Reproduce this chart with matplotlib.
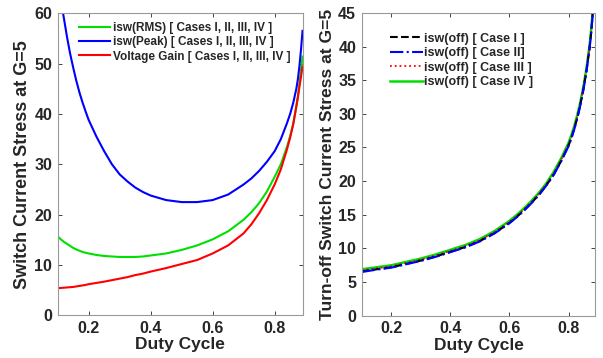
import matplotlib
matplotlib.use("Agg")
import matplotlib.pyplot as plt

# -- Left panel: switch current stress at G=5 --------------------------------
duty_left = [0.10, 0.11, 0.12, 0.13, 0.14, 0.15, 0.16, 0.17, 0.18, 0.19, 0.20,
             0.225, 0.25, 0.275, 0.30, 0.325, 0.35, 0.375, 0.40, 0.45, 0.50,
             0.55, 0.60, 0.65, 0.70, 0.725, 0.75, 0.775, 0.80, 0.82, 0.84,
             0.85, 0.86, 0.87, 0.875, 0.88, 0.885, 0.89]
isw_peak = [66.5, 62.5, 59.0, 55.3, 52.0, 49.2, 46.6, 44.3, 42.3, 40.5, 38.8,
            35.5, 32.6, 30.0, 28.0, 26.6, 25.4, 24.5, 23.8, 22.9, 22.5,
            22.5, 22.9, 24.0, 26.0, 27.2, 28.7, 30.5, 32.6, 35.0, 38.2,
            40.0, 42.2, 45.0, 46.9, 49.5, 52.7, 56.5]
isw_rms = [15.7, 15.1, 14.6, 14.2, 13.8, 13.4, 13.1, 12.85, 12.6, 12.45, 12.3,
           12.0, 11.8, 11.7, 11.6, 11.6, 11.6, 11.7, 11.9, 12.3, 13.0,
           13.9, 15.1, 16.7, 19.0, 20.5, 22.3, 24.6, 27.5, 30.0, 33.5,
           35.6, 38.0, 41.5, 43.5, 46.0, 48.6, 51.4]
volt_gain = [5.4, 5.45, 5.5, 5.55, 5.6, 5.65, 5.75, 5.85, 5.95, 6.05, 6.2,
             6.45, 6.7, 7.0, 7.3, 7.6, 8.0, 8.3, 8.7, 9.4, 10.2,
             11.0, 12.3, 13.9, 16.3, 18.1, 20.3, 22.9, 26.0, 29.0, 33.0,
             35.3, 38.0, 41.5, 43.3, 45.4, 47.3, 49.4]

# -- Right panel: turn-off switch current stress ------------------------------
duty_right = [0.10, 0.15, 0.20, 0.25, 0.30, 0.35, 0.40, 0.45, 0.50, 0.55, 0.60,
              0.625, 0.65, 0.675, 0.70, 0.725, 0.75, 0.775, 0.80, 0.81, 0.82,
              0.83, 0.84, 0.85, 0.86, 0.87, 0.875, 0.88, 0.885, 0.89]
off_case4 = [6.9, 7.2, 7.5, 8.0, 8.5, 9.1, 9.8, 10.5, 11.4, 12.6, 14.1,
             15.0, 16.0, 17.1, 18.3, 19.7, 21.4, 23.4, 25.7, 26.9, 28.3,
             29.9, 31.8, 34.0, 36.6, 39.8, 41.8, 44.3, 47.3, 50.8]
off_case3 = [6.75, 7.05, 7.35, 7.85, 8.35, 8.95, 9.65, 10.35, 11.25, 12.45, 13.95,
             14.85, 15.85, 16.95, 18.15, 19.55, 21.2, 23.2, 25.5, 26.7, 28.1,
             29.7, 31.6, 33.8, 36.4, 39.6, 41.6, 44.1, 47.1, 50.6]
off_case1 = [6.6, 6.9, 7.2, 7.7, 8.2, 8.8, 9.5, 10.2, 11.1, 12.3, 13.8,
             14.7, 15.7, 16.8, 18.0, 19.4, 21.0, 23.0, 25.3, 26.5, 27.9,
             29.5, 31.4, 33.6, 36.2, 39.4, 41.4, 43.9, 46.9, 50.4]
off_case2 = [6.5, 6.85, 7.15, 7.65, 8.15, 8.75, 9.45, 10.15, 11.05, 12.25, 13.75,
             14.65, 15.65, 16.75, 17.95, 19.35, 20.95, 22.95, 25.2, 26.4, 27.8,
             29.4, 31.3, 33.5, 36.1, 39.3, 41.3, 43.8, 46.8, 50.3]

plt.rcParams.update({
    "font.family": "Liberation Sans",
    "font.weight": "bold",
    "axes.labelweight": "bold",
    "text.color": "#262626",
    "axes.labelcolor": "#262626",
    "xtick.color": "#262626",
    "ytick.color": "#262626",
    "axes.edgecolor": "#999999",
})

fig = plt.figure(figsize=(6.03, 3.58), dpi=100)
ax1 = fig.add_axes([0.0957, 0.119, 0.406, 0.844])
ax2 = fig.add_axes([0.600, 0.118, 0.387, 0.846])

ax1.plot(duty_left, isw_rms, color="#00e000", lw=1.5, label="isw(RMS) [ Cases I, II, III, IV ]")
ax1.plot(duty_left, isw_peak, color="#0000ff", lw=1.5, label="isw(Peak) [ Cases I, II, III, IV ]")
ax1.plot(duty_left, volt_gain, color="#ff0000", lw=1.5, label="Voltage Gain [ Cases I, II, III, IV ]")
ax1.set_xlim(0.1, 0.89)
ax1.set_ylim(0, 60)
ax1.set_xticks([0.2, 0.4, 0.6, 0.8])
ax1.set_yticks([0, 10, 20, 30, 40, 50, 60])
ax1.set_xlabel("Duty Cycle", fontsize=12.5, labelpad=1)
ax1.set_ylabel("Switch Current Stress at G=5", fontsize=13, labelpad=2)
ax1.legend(loc="upper left", bbox_to_anchor=(0.06, 0.995), frameon=False,
           fontsize=8.5, handlelength=2.6, handletextpad=0.2, labelspacing=0.2,
           borderaxespad=0.2)

ax2.plot(duty_right, off_case4, color="#00e000", lw=1.8, ls="-", label="isw(off) [ Case IV ]")
ax2.plot(duty_right, off_case3, color="#ff0000", lw=1.3, ls=":", label="isw(off) [ Case III ]")
ax2.plot(duty_right, off_case1, color="black", lw=1.5, ls="--", label="isw(off) [ Case I ]")
ax2.plot(duty_right, off_case2, color="#0000ff", lw=1.5, ls="-.", label="isw(off) [ Case II]")
ax2.set_xlim(0.1, 0.89)
ax2.set_ylim(0, 45)
ax2.set_xticks([0.2, 0.4, 0.6, 0.8])
ax2.set_yticks([0, 5, 10, 15, 20, 25, 30, 35, 40, 45])
ax2.set_xlabel("Duty Cycle", fontsize=12.5, labelpad=1)
ax2.set_ylabel("Turn-off Switch Current Stress at G=5", fontsize=12.5, labelpad=2)
h, l = ax2.get_legend_handles_labels()
order = [2, 3, 1, 0]
ax2.legend([h[i] for i in order], [l[i] for i in order], loc="upper left",
           bbox_to_anchor=(0.09, 0.96), frameon=False, fontsize=9,
           handlelength=2.6, handletextpad=0.1, labelspacing=0.2,
           borderaxespad=0.2)

for ax in (ax1, ax2):
    ax.tick_params(direction="in", top=True, right=True, length=3,
                   labelsize=11.5, pad=4, width=0.6)
    for lab in ax.get_xticklabels() + ax.get_yticklabels():
        lab.set_fontweight("bold")
    for sp in ax.spines.values():
        sp.set_linewidth(0.8)

fig.savefig("out.png", dpi=100)
